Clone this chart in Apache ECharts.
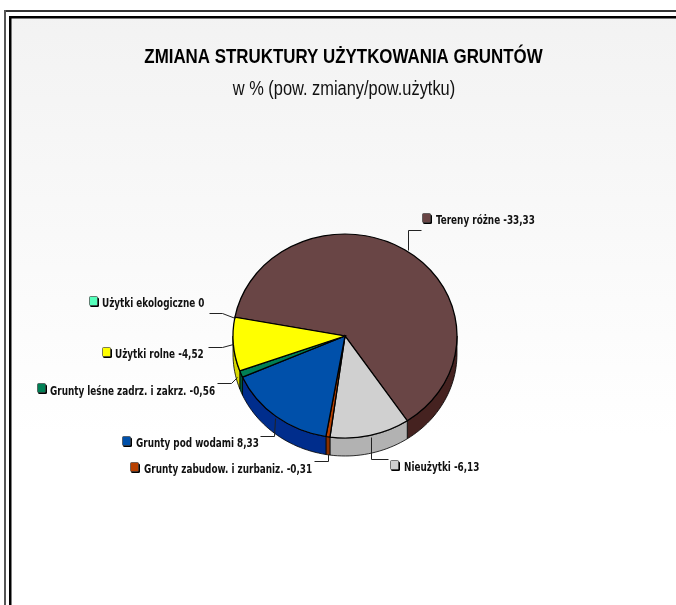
<!DOCTYPE html>
<html><head><meta charset="utf-8">
<style>html,body{margin:0;padding:0;background:#fff}#c{width:676px;height:605px}</style>
<script src="https://cdn.jsdelivr.net/npm/echarts@6/dist/echarts.min.js"></script>
</head><body><div id="c"></div>
<script>
const categories = ['Tereny różne','Nieużytki','Grunty zabudow. i zurbaniz.','Grunty pod wodami','Grunty leśne zadrz. i zakrz.','Użytki rolne','Użytki ekologiczne'];
const shownValues = ['-33,33','-6,13','-0,31','8,33','-0,56','-4,52','0'];
const sliceValues = [33.33,6.13,0.31,8.33,0.56,4.52,0];
const topColors = ['#694545','#d0d0d0','#b84000','#0050aa','#008055','#ffff00','#55ffbb'];
const sideColors = ['#452220','#b2b2b2','#8a3000','#002d8c','#00573a','#d8d800','#33aa80'];
const titleText = 'ZMIANA STRUKTURY UŻYTKOWANIA GRUNTÓW';
const subtitleText = 'w % (pow. zmiany/pow.użytku)';

// layout only
const CX=345, CY=336, RX=112, RY=102, DEPTH=18, START=280.6;
const labelLayout = [
 {mx:422,my:213,tx:436,ty:221,line:[[408,250],[408,230],[421,230]]},
 {mx:390,my:460,tx:404,ty:468,line:[[371,437],[371,459],[388,459]]},
 {mx:130,my:462,tx:144,ty:470,line:[[328,454],[328,461],[314,461]]},
 {mx:122,my:436,tx:136,ty:444,line:[[275,418],[274,436],[260,436]]},
 {mx:37,my:383,tx:50,ty:392,line:[[237,377],[231,383],[217,383]]},
 {mx:102,my:347,tx:115,ty:355,line:[[233,344],[222,347],[208,347]]},
 {mx:89,my:296,tx:102,ty:304,line:[[235,318],[222,313],[209,313]]}
];
const total = sliceValues.reduce((a,b)=>a+b,0);
const LABEL_FONT = 'bold 12px "DejaVu Sans Condensed","DejaVu Sans",sans-serif';
const rad = d => (d-90)*Math.PI/180;

function ring(fromDeg,toDeg){
  const pts=[]; const n=Math.max(2,Math.ceil((toDeg-fromDeg)/2));
  for(let k=0;k<=n;k++){const a=rad(fromDeg+(toDeg-fromDeg)*k/n);pts.push([CX+RX*Math.cos(a),CY+RY*Math.sin(a)]);}
  const back=pts.slice().reverse().map(p=>[p[0],p[1]+DEPTH]);
  return pts.concat(back);
}
function renderSlice(params,api){
  const i=params.dataIndex, v=api.value(0);
  let before=0; for(let k=0;k<i;k++) before+=sliceValues[k];
  const a0=START+before/total*360, a1=a0+v/total*360;
  const children=[];
  [[90,270],[450,630]].forEach(([f,t])=>{
    const s=Math.max(a0,f), e=Math.min(a1,t);
    if(e>s) children.push({type:'polygon',shape:{points:ring(s,e)},style:{fill:sideColors[i],stroke:'#000',lineWidth:0.8}});
  });
  if(v>0) children.push({type:'sector',x:CX,y:CY,scaleY:RY/RX,
    shape:{cx:0,cy:0,r:RX,r0:0,startAngle:rad(a0),endAngle:rad(a1),clockwise:true},
    style:{fill:topColors[i],stroke:'#000',lineWidth:1.3}});
  const L=labelLayout[i];
  children.push({type:'polyline',shape:{points:L.line.map(p=>[p[0]+0.5,p[1]+0.5])},style:{fill:'none',stroke:'#222',lineWidth:1},z2:5});
  children.push({type:'rect',shape:{x:L.mx+1,y:L.my+1.5,width:9,height:9.5,r:1.5},style:{fill:'#000'},z2:5});
  children.push({type:'rect',shape:{x:L.mx+.5,y:L.my+.5,width:8,height:9,r:1},style:{fill:topColors[i],stroke:'#444',lineWidth:0.7},z2:6});
  children.push({type:'text',x:L.tx,y:L.ty,scaleX:0.82,style:{x:0,y:0,text:categories[i]+' '+shownValues[i],font:LABEL_FONT,fill:'#111',verticalAlign:'middle',align:'left'},z2:6});
  return {type:'group',children};
}
const chart=echarts.init(document.getElementById('c'),null,{renderer:'canvas'});
const frame=(x,y,w,h,fill)=>({type:'rect',silent:true,z:-1,shape:{x,y,width:w,height:h},style:{fill}});
chart.setOption({
  animation:false,
  backgroundColor:{type:'linear',x:0,y:0,x2:0,y2:1,colorStops:[{offset:0,color:'#f2f2f2'},{offset:0.72,color:'#ffffff'},{offset:1,color:'#ffffff'}]},
  graphic:[
    frame(0,0,676,10,'#fff'), frame(0,0,4,605,'#fff'),
    frame(4,10,700,2,'#333'), frame(4,10,2,600,'#555'),
    frame(6,12,700,4,'#fff'), frame(6,12,3,600,'#fff'),
    frame(9,16,700,2.5,'#000'), frame(9,16,2.5,600,'#000'),
    {type:'text',silent:true,x:343.5,y:57,scaleX:0.845,style:{x:0,y:0,text:titleText,font:'bold 20px "Liberation Sans",sans-serif',fill:'#000',align:'center',verticalAlign:'middle'}},
    {type:'text',silent:true,x:344,y:89,scaleX:0.82,style:{x:0,y:0,text:subtitleText,font:'20px "Liberation Sans",sans-serif',fill:'#111',align:'center',verticalAlign:'middle'}}
  ],
  series:[{type:'custom',coordinateSystem:'none',silent:true,clip:false,renderItem:renderSlice,data:sliceValues.map(v=>[v])}]
});
</script></body></html>
